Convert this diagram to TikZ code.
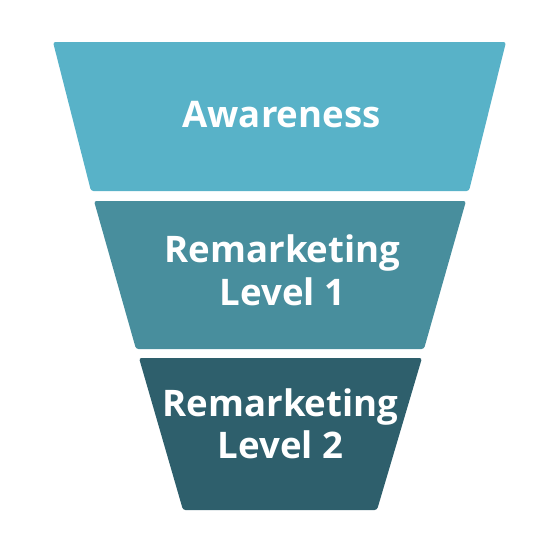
\documentclass[tikz,border=0pt]{standalone}
\usepackage{fontspec}
\setmainfont{Open Sans}
\definecolor{bandA}{HTML}{58B2C8}
\definecolor{bandB}{HTML}{488E9D}
\definecolor{bandC}{HTML}{2E5F6C}
\tikzset{
  band/.style={rounded corners=2.5pt},
  lbl/.style={text=white, font=\fontsize{36.6}{42}\selectfont\bfseries, anchor=base, inner sep=0pt}
}
\begin{document}
\begin{tikzpicture}[x=1pt,y=-1pt]
\useasboundingbox (0,0) rectangle (550,550);
\fill[bandA, band] (53,42) -- (506,42) -- (469,191) -- (91,191) -- cycle;
\fill[bandB, band] (94,201) -- (466,201) -- (424,349) -- (136,349) -- cycle;
\fill[bandC, band] (139,358) -- (422,358) -- (377,510) -- (183,510) -- cycle;
\node[lbl] (aw) at (281.5,127) {Awareness};
\node[lbl] (r1a) at (282.5,262) {Remarketing};
\node[lbl] (r1b) at (282.5,305) {Level 1};
\node[lbl] (r2a) at (280.5,416) {Remarketing};
\node[lbl] (r2b) at (280.5,458) {Level 2};
\end{tikzpicture}
\end{document}
